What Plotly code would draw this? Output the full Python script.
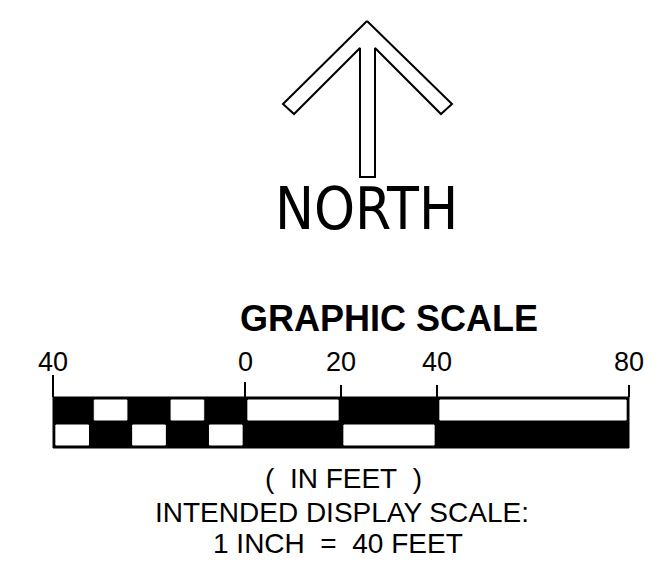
import plotly.graph_objects as go

# north arrow outline (page pixels)
arrow_x = [367, 452, 441, 375, 375, 360, 360, 294, 283, 367]
arrow_y = [21, 104, 114, 48, 177, 177, 48, 114, 104, 21]

# graphic scale, values in feet
scale_ticks = [-40, 0, 20, 40, 80]
scale_labels = ["40", "0", "20", "40", "80"]
tick_tops = [375, 382, 385, 385, 385]

# white cells: (start ft, end ft)
top_white = [(-32, -24), (-16, -8), (0, 20), (40, 80)]
bottom_white = [(-40, -32), (-24, -16), (-8, 0), (20, 40)]

BAR_TOP, BAR_MID, BAR_BOT = 397, 422.5, 448
INSET = 0.6  # feet
OFF = 8  # page body margin

fig = go.Figure()

# black bar body
fig.add_trace(go.Scatter(
    x=[-40, 80, 80, -40, -40], y=[BAR_TOP, BAR_TOP, BAR_BOT, BAR_BOT, BAR_TOP],
    mode="lines", fill="toself", fillcolor="black",
    line=dict(color="black", width=1), hoverinfo="skip"))

def add_cells(cells, y0, y1):
    for a, b in cells:
        x0, x1 = a + INSET, b - INSET
        fig.add_trace(go.Scatter(
            x=[x0, x1, x1, x0, x0], y=[y0, y0, y1, y1, y0],
            mode="lines", fill="toself", fillcolor="white",
            line=dict(color="white", width=1), hoverinfo="skip"))

add_cells(top_white, BAR_TOP + 3, BAR_MID - 2.5)
add_cells(bottom_white, BAR_MID + 2.5, BAR_BOT - 3)

# tick marks
for v, t in zip(scale_ticks, tick_tops):
    fig.add_trace(go.Scatter(x=[v, v], y=[t, BAR_TOP], mode="lines",
                             line=dict(color="black", width=2), hoverinfo="skip"))

# arrow on a pixel axis
fig.add_trace(go.Scatter(x=arrow_x, y=arrow_y, xaxis="x2", mode="lines",
                         line=dict(color="black", width=2), hoverinfo="skip"))

font = "Liberation Sans, Arial, sans-serif"
for v, lab in zip(scale_ticks, scale_labels):
    fig.add_annotation(x=v, y=362, xref="x", yref="y", text=lab, showarrow=False,
                       font=dict(family=font, size=27, color="black"))

narrow = ("Liberation Sans Narrow, DejaVu Sans Condensed, Roboto Condensed, "
          "Open Sans Condensed, Liberation Sans, sans-serif")
nb = "\u00a0"
texts = [
    ("NORTH", 366, 209, 58, narrow, "normal"),
    ("GRAPHIC SCALE", 389, 318, 36, font, "bold"),
    (f"({nb} IN FEET{nb} )", 343, 478, 28, font, "normal"),
    ("INTENDED DISPLAY SCALE:", 342, 512, 28, font, "normal"),
    (f"1 INCH{nb} ={nb} 40 FEET", 338, 543, 28, font, "normal"),
]
for txt, x, y, size, fam, weight in texts:
    fig.add_annotation(x=x, y=y, xref="x2", yref="y", text=txt, showarrow=False,
                       font=dict(family=fam, size=size, color="black", weight=weight))

px_per_ft = 96 / 20
fig.update_layout(
    width=658 - OFF, height=581 - OFF, margin=dict(l=0, r=0, t=0, b=0),
    paper_bgcolor="white", plot_bgcolor="white", showlegend=False,
    xaxis=dict(range=[(OFF - 245) / px_per_ft, (658 - 245) / px_per_ft], visible=False),
    xaxis2=dict(range=[OFF, 658], overlaying="x", visible=False),
    yaxis=dict(range=[581, OFF], visible=False),
)

fig.write_html("out.html")
